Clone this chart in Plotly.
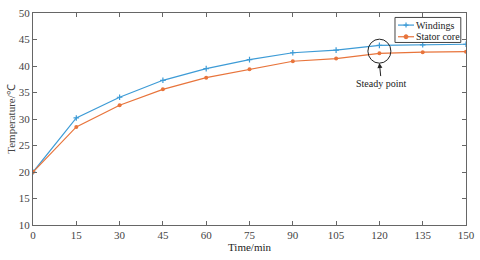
import plotly.graph_objects as go

time_min = [0, 15, 30, 45, 60, 75, 90, 105, 120, 135, 150]
windings = [20.0, 30.2, 34.1, 37.3, 39.5, 41.2, 42.5, 43.0, 43.9, 44.0, 44.1]
stator_core = [20.0, 28.5, 32.6, 35.6, 37.8, 39.4, 40.9, 41.4, 42.4, 42.6, 42.7]
series_names = ["Windings", "Stator core"]
x_ticks = [0, 15, 30, 45, 60, 75, 90, 105, 120, 135, 150]
y_ticks = [10, 15, 20, 25, 30, 35, 40, 45, 50]

blue = "#3d9bd6"
orange = "#e8743b"
font_family = "Liberation Serif, Times New Roman, serif"

fig = go.Figure()
fig.add_trace(go.Scatter(x=time_min, y=windings, name=series_names[0], mode="lines+markers",
                         line=dict(color=blue, width=1.2),
                         marker=dict(symbol="cross-thin", size=4, color=blue,
                                     line=dict(color=blue, width=1.2))))
fig.add_trace(go.Scatter(x=time_min, y=stator_core, name=series_names[1], mode="lines+markers",
                         line=dict(color=orange, width=1.2),
                         marker=dict(symbol="circle", size=4, color=orange)))

axis_common = dict(showline=True, linecolor="#666", linewidth=1, mirror="ticks",
                   ticks="inside", ticklen=4, tickcolor="#666", showgrid=False, zeroline=False,
                   automargin=False,
                   tickfont=dict(family=font_family, size=11, color="#444"))
fig.update_xaxes(range=[0, 150], tickvals=x_ticks,
                 title=dict(text="Time/min", font=dict(family=font_family, size=11, color="#222"), standoff=1),
                 **axis_common)
fig.update_yaxes(range=[10, 50], tickvals=y_ticks,
                 title=dict(text="Temperature/℃", font=dict(family=font_family, size=11, color="#444"), standoff=0),
                 **axis_common)

# circle around steady point
fig.add_shape(type="circle", xref="x", yref="y", xsizemode="pixel", ysizemode="pixel",
              xanchor=120, yanchor=42.8, x0=-11.5, x1=11.5, y0=-12, y1=12,
              line=dict(color="#222", width=1))
fig.add_annotation(x=120, y=40.55, xref="x", yref="y", text="Steady point",
                   showarrow=True, arrowhead=2, arrowsize=1, arrowwidth=1, arrowcolor="#222",
                   ax=2, ay=20, font=dict(family=font_family, size=10, color="#222"))

# compact legend box (MATLAB style)
lx0, lx1, ly0, ly1 = 0.836, 0.988, 0.861, 0.979
fig.add_shape(type="rect", xref="paper", yref="paper", x0=lx0, x1=lx1, y0=ly0, y1=ly1,
              line=dict(color="#444", width=1), fillcolor="white", layer="above")
rows = [(0.943, blue, "cross"), (0.888, orange, "circle")]
for name, (ry, col, sym) in zip(series_names, rows):
    fig.add_shape(type="line", xref="paper", yref="paper", x0=0.843, x1=0.880, y0=ry, y1=ry,
                  line=dict(color=col, width=1.2), layer="above")
    xm = 0.8615
    if sym == "circle":
        fig.add_shape(type="circle", xref="paper", yref="paper", xsizemode="pixel", ysizemode="pixel",
                      xanchor=xm, yanchor=ry, x0=-2, x1=2, y0=-2, y1=2,
                      line=dict(color=col, width=1), fillcolor=col, layer="above")
    else:
        fig.add_shape(type="path", xref="paper", yref="paper", xsizemode="pixel", ysizemode="pixel",
                      xanchor=xm, yanchor=ry, path="M-2.5,0 L2.5,0 M0,-2.5 L0,2.5",
                      line=dict(color=col, width=1.2), layer="above")
    fig.add_annotation(x=0.879, y=ry, xref="paper", yref="paper", text=name, showarrow=False,
                       xanchor="left", yanchor="middle",
                       font=dict(family=font_family, size=10, color="#222"))

fig.update_layout(
    width=480, height=260,
    margin=dict(l=33, r=14, t=13, b=35),
    paper_bgcolor="white", plot_bgcolor="white",
    showlegend=False,
)

fig.write_html("out.html", post_script="document.body.style.margin='0';",
               config={"displayModeBar": False})
